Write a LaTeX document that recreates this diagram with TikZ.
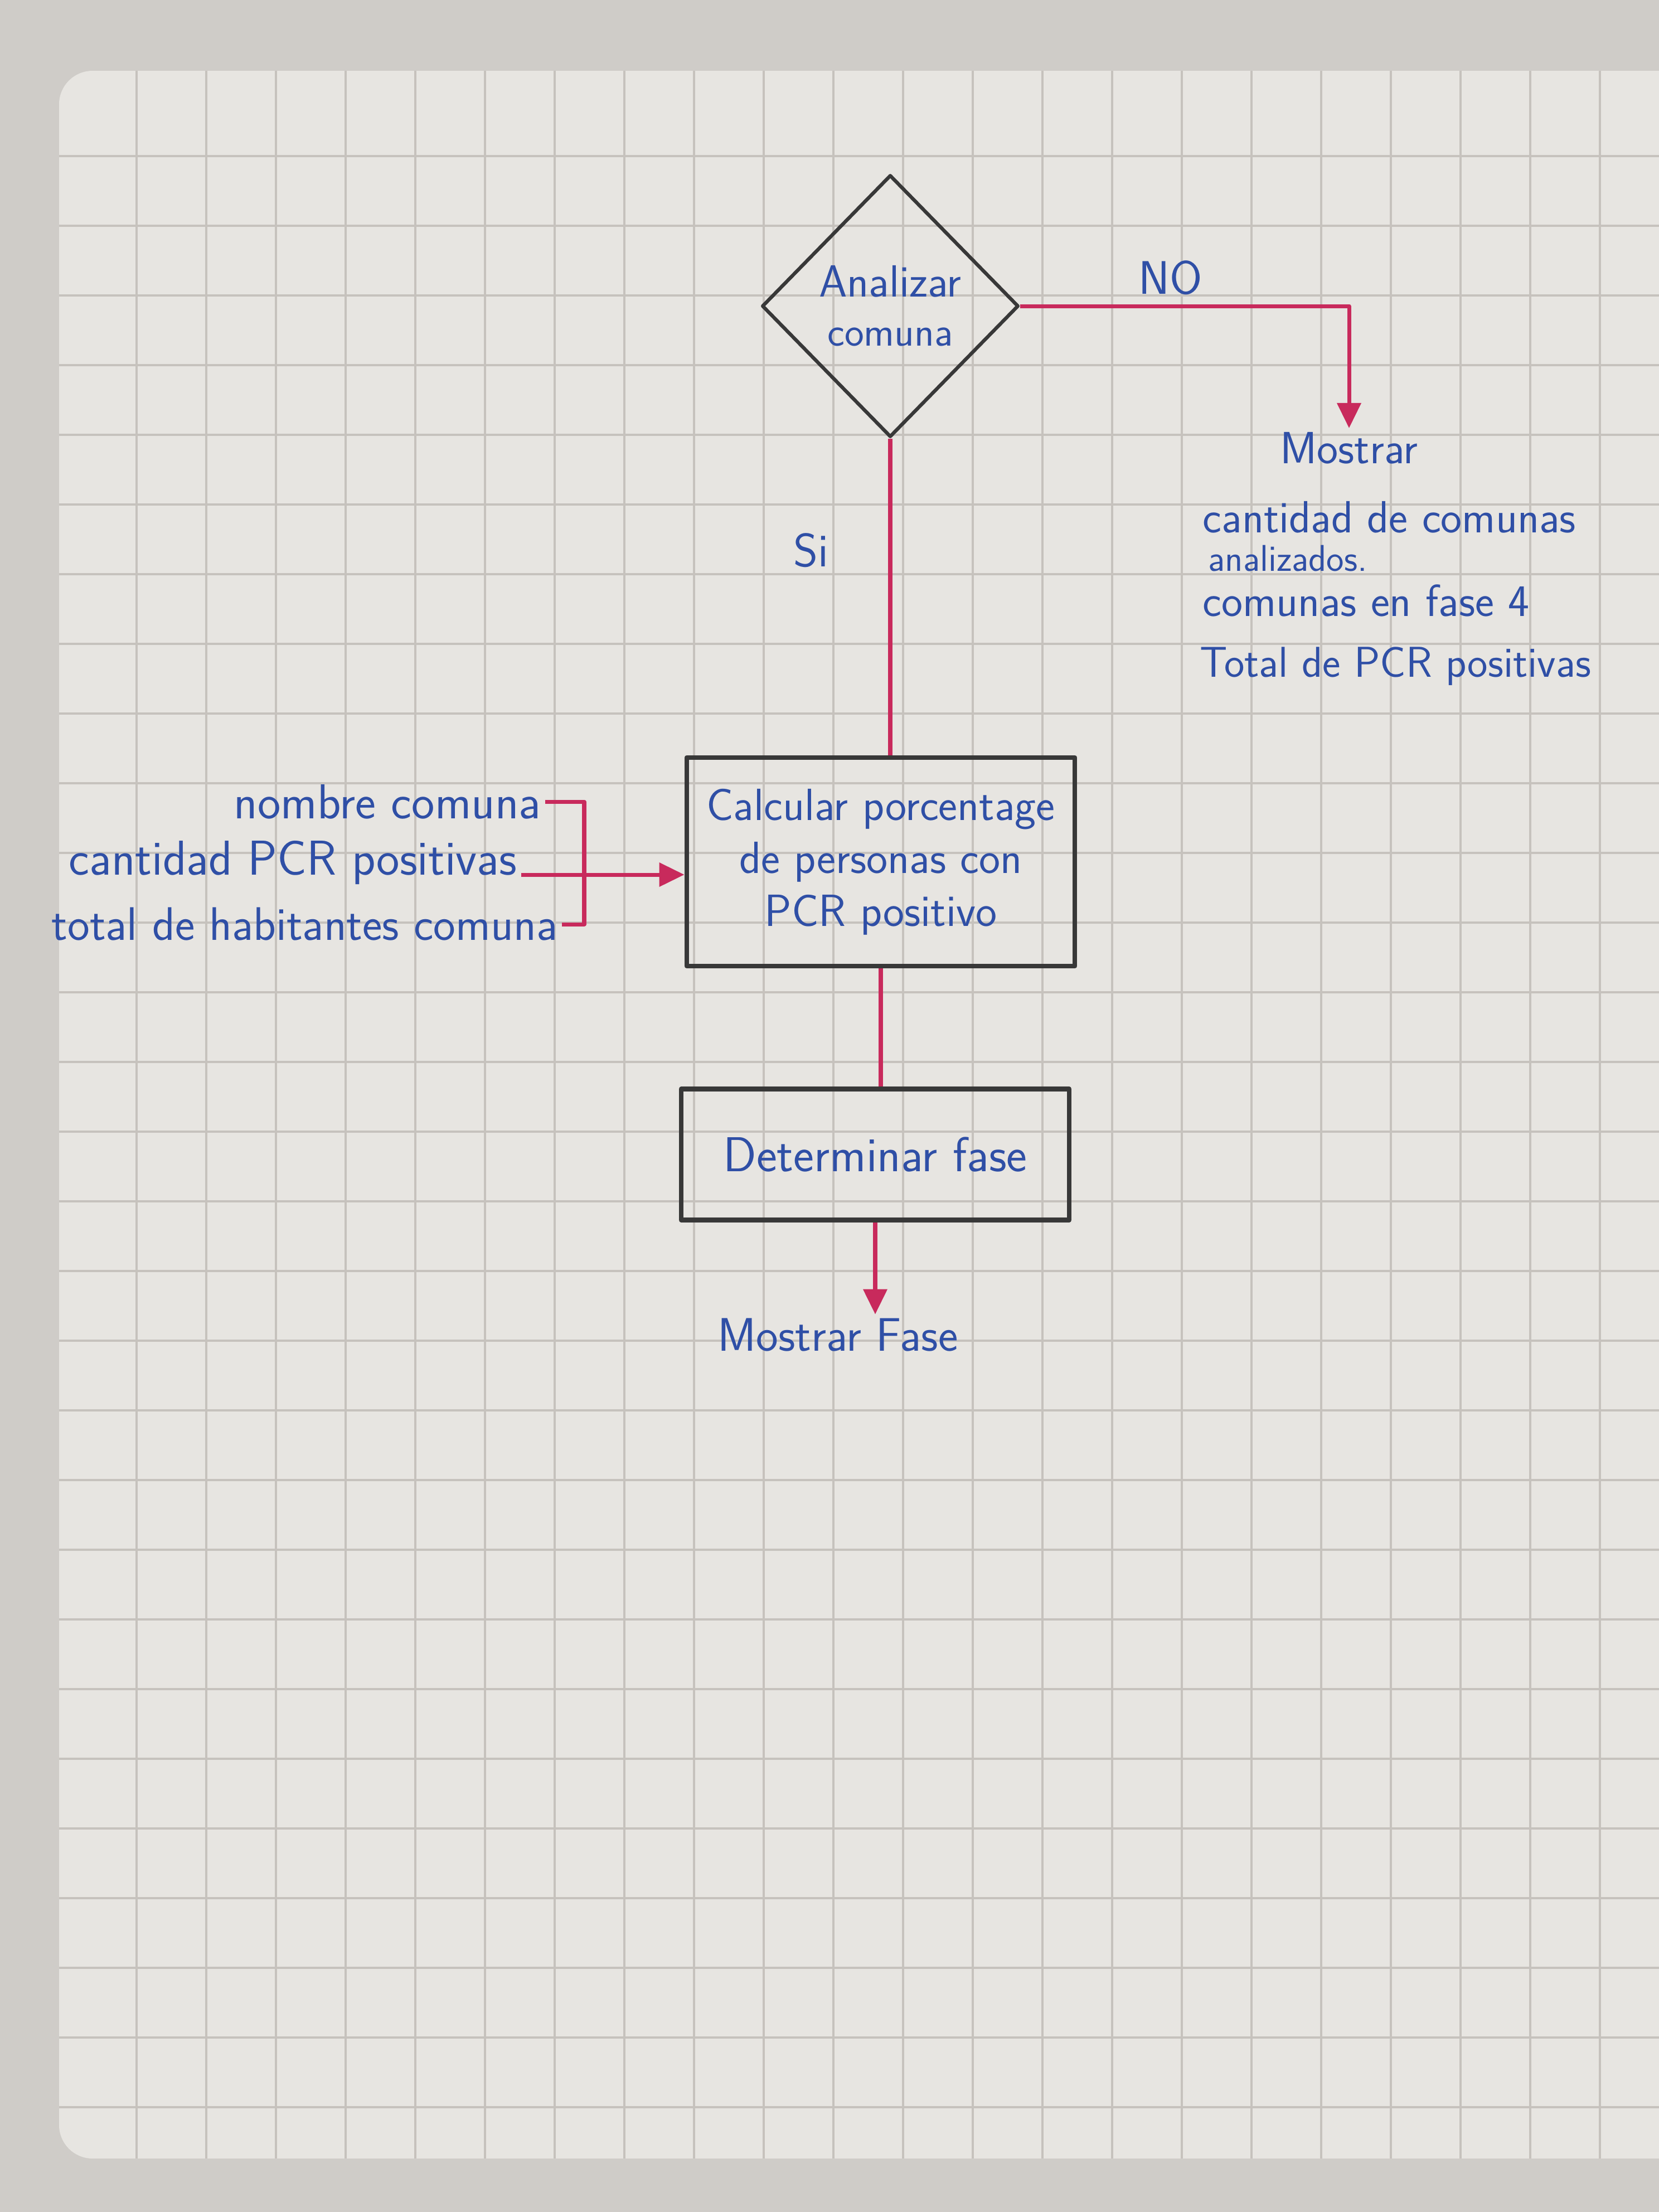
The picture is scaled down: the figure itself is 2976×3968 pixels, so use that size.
\documentclass[tikz,border=0pt]{standalone}
\usetikzlibrary{shapes.geometric,arrows.meta,positioning}
\definecolor{desk}{HTML}{CFCCC8}
\definecolor{paper}{HTML}{E7E5E1}
\definecolor{gridln}{HTML}{C6C2BD}
\definecolor{ink}{HTML}{2F4FA6}
\definecolor{pen}{HTML}{C82A5C}
\definecolor{pencil}{HTML}{383838}

\begin{document}
\begin{tikzpicture}[x=0.01cm,y=-0.01cm,line join=round,
  txt/.style={text=ink,font=\sffamily\fontsize{23}{28}\selectfont,inner sep=2pt},
  bigtxt/.style={txt,font=\sffamily\fontsize{25}{30}\selectfont},
  link/.style={pen,line width=2pt},
  arr/.style={link,-{Triangle[length=0.45cm,width=0.42cm]}},
  boxnode/.style={txt,draw=pencil,line width=2.4pt,minimum width=6.96cm,align=center},
  decision/.style={txt,diamond,draw=pencil,line width=1.8pt,minimum width=4.6cm,
    minimum height=4.7cm,inner sep=0pt,align=center}]
 \useasboundingbox (0,0) rectangle (2976,3968);
 \clip (0,0) rectangle (2976,3968);
 \path[fill=desk] (0,0) rectangle (2976,3968);
 \path[fill=paper,rounded corners=0.6cm] (106,127) rectangle (3040,3872);
 % squared paper, one square is about 1.25cm in the photo
 \begin{scope}
  \clip[rounded corners=0.6cm] (106,127) rectangle (3040,3872);
  \foreach \gx in {245,370,...,2976} \draw[gridln,line width=1pt] (\gx,0) -- (\gx,3968);
  \foreach \gy in {280,405,...,3968} \draw[gridln,line width=1pt] (0,\gy) -- (2976,\gy);
 \end{scope}

 \node[decision,font=\sffamily\fontsize{23}{28}\selectfont] (dec) at (1597,549)
   {Analizar\\[-3pt]\fontsize{21}{24}\selectfont comuna};
 \node[txt,font=\sffamily\fontsize{24}{28}\selectfont] (no) at (2100,498) {NO};
 \node[txt,anchor=north] (out0) at (2420,768) {Mostrar};
 \node[txt,anchor=base west] (out1) at (2150,955) {cantidad de comunas};
 \node[txt,anchor=base west,font=\sffamily\fontsize{19}{22}\selectfont] (out2) at (2160,1024) {analizados.};
 \node[txt,anchor=base west] (out3) at (2150,1105) {comunas en fase 4};
 \node[txt,anchor=base west,font=\sffamily\fontsize{22}{28}\selectfont] (out4) at (2145,1214) {Total de PCR positivas};
 \node[txt,font=\sffamily\fontsize{24}{28}\selectfont] (si) at (1455,987) {Si};

 \node[boxnode,minimum height=3.74cm,font=\sffamily\fontsize{23}{27}\selectfont] (calc) at (1580,1546)
   {Calcular porcentage\\de personas con\\PCR positivo};
 \node[boxnode,minimum height=2.35cm,font=\sffamily\fontsize{25}{30}\selectfont] (det) at (1570,2071)
   {Determinar fase};
 \node[txt,font=\sffamily\fontsize{24}{28}\selectfont] (fase) at (1503,2395) {Mostrar Fase};

 \node[bigtxt,anchor=east] (in1) at (978,1438) {nombre comuna};
 \node[bigtxt,anchor=base east] (in2) at (935,1569) {cantidad PCR positivas};
 \node[bigtxt,anchor=east,font=\sffamily\fontsize{24}{30}\selectfont] (in3) at (1008,1658) {total de habitantes comuna};
 \coordinate (brk) at (1048,1550);

 \draw[link] (dec.south) -- (dec.south |- calc.north);
 \draw[link] (calc.south) -- (calc.south |- det.north);
 \draw[arr] (det.south) -- (det.south |- fase.north);
 \draw[arr] (dec.east) -| (out0.north);
 \draw[link] (in1.east) -- (brk |- in1.east) -- (brk |- in3.east) -- (in3.east);
 \draw[arr] (in2.base east) -- (in2.base east -| calc.west);
\end{tikzpicture}
\end{document}
